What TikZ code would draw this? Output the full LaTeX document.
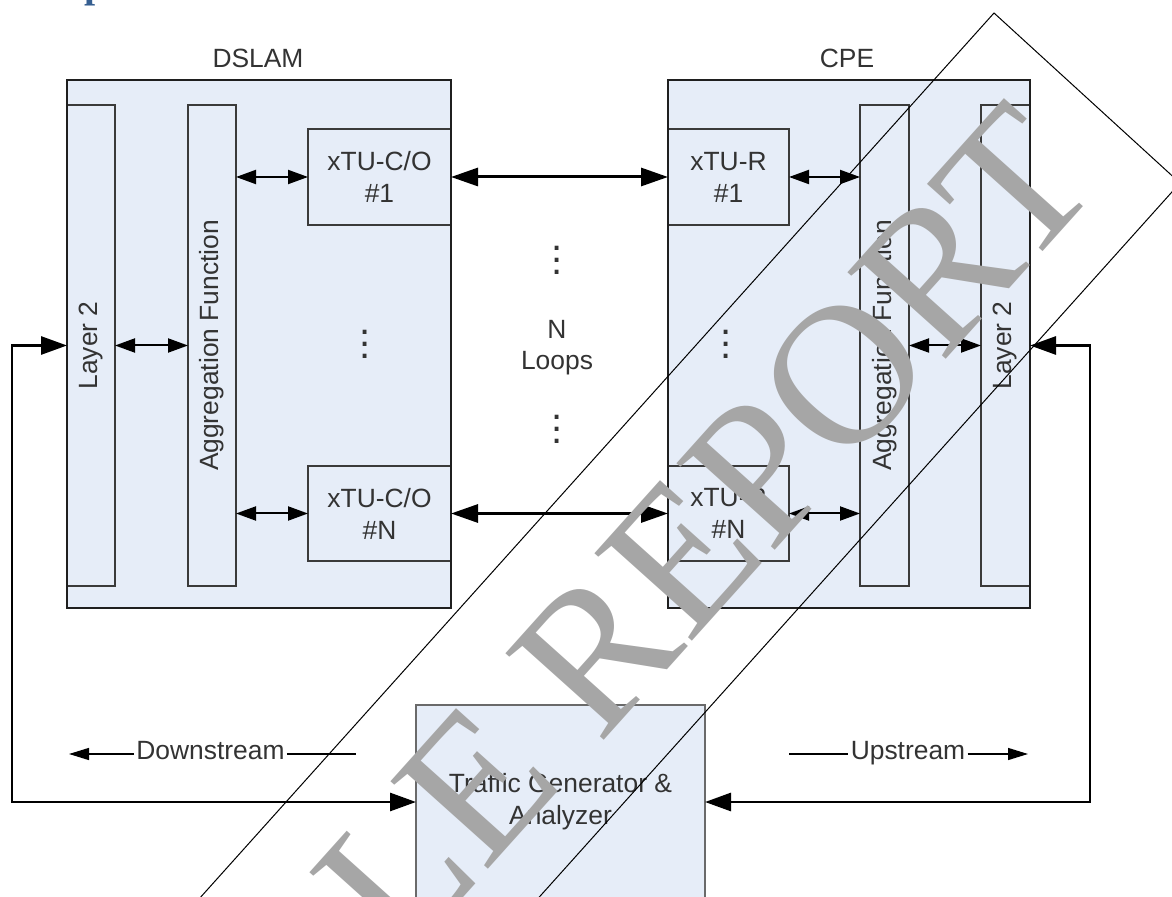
\documentclass[tikz,border=0pt]{standalone}
\usepackage{fontspec}
\setmainfont{Liberation Sans}
\newfontfamily\wmfont{Liberation Serif}
\usetikzlibrary{arrows.meta,calc}
\definecolor{boxfill}{HTML}{E6EDF8}
\definecolor{txt}{HTML}{333333}
\definecolor{edge}{HTML}{3A3A3A}
\definecolor{tgedge}{HTML}{6A6A6A}
\definecolor{wmgray}{HTML}{A6A6A6}
\definecolor{headblue}{HTML}{365F91}
\newcommand\mydotcol{\vbox{\baselineskip=6pt\lineskiplimit=0pt\hbox{.}\hbox{.}\hbox{.}}}
\begin{document}
\begin{tikzpicture}[x=0.5pt,y=-0.5pt,
  font=\fontsize{13.2}{16}\selectfont, text=txt,
  blk/.style={draw=edge,line width=1pt,fill=boxfill,inner sep=0pt,outer sep=0pt,align=center},
  outerbox/.style={fill=boxfill,draw=none,inner sep=0pt,outer sep=0pt},
  outerline/.style={draw=black!88,line width=1.3pt},
  smallarrow/.style={line width=1pt,{Triangle[length=10pt,width=7pt]}-{Triangle[length=10pt,width=7pt]}},
  looparrow/.style={line width=1.5pt,{Triangle[length=13.5pt,width=9pt]}-{Triangle[length=13.5pt,width=9pt]}},
  fbarrow/.style={line width=1.4pt,{Triangle[length=13pt,width=9pt]}-{Triangle[length=13pt,width=9pt]}},
  dirarrow/.style={line width=0.7pt,-{Triangle[length=10pt,width=6pt]}},
  dirline/.style={line width=0.7pt},
  lbl/.style={inner sep=1pt,text height=0.58em,text depth=0pt},
  vdotsnode/.style={font=\fontsize{20}{20}\selectfont,inner sep=0pt}]
\useasboundingbox (0,0) rectangle (1172,897);
\clip (0,0) rectangle (1172,897);

% heading fragment
\node[anchor=base west,font=\wmfont\bfseries\fontsize{20}{20}\selectfont,text=headblue,inner sep=0pt] (hd) at (84,-2) {p};

% outer boxes (fill)
\node[outerbox,minimum width=192pt,minimum height=264pt] (dslam) at (259,344) {};
\node[outerbox,minimum width=181pt,minimum height=264pt] (cpe) at (849,344) {};
\node (dtitle) at (258,58) {DSLAM};
\node (ctitle) at (847,58) {CPE};

% DSLAM inner
\node[blk,minimum width=24pt,minimum height=240.5pt] (dl2) at (91,345.5) {};
\node[rotate=90,inner sep=0pt] (dl2t) at (dl2) {Layer 2};
\node[blk,minimum width=24pt,minimum height=240.5pt] (dagg) at (212,345.5) {};
\node[rotate=90,inner sep=0pt] (daggt) at (dagg) {Aggregation Function};
\node[blk,minimum width=71.5pt,minimum height=48pt] (dx1) at (379.5,177) {xTU-C/O\\\#1};
\node[blk,minimum width=71.5pt,minimum height=47.5pt] (dxN) at (379.5,513.5) {xTU-C/O\\\#N};
\node[vdotsnode] (dd) at (365,344) {\mydotcol};

% CPE inner
\node[blk,minimum width=60.5pt,minimum height=48pt] (rx1) at (728.5,177) {xTU-R\\\#1};
\node[blk,minimum width=60.5pt,minimum height=47.5pt] (rxN) at (728.5,513.5) {xTU-R\\\#N};
\node[blk,minimum width=24.5pt,minimum height=240.5pt] (cagg) at (884.5,345.5) {};
\node[rotate=90,inner sep=0pt] (caggt) at (cagg) {Aggregation Function};
\node[blk,minimum width=24.5pt,minimum height=240.5pt] (cl2) at (1005.5,345.5) {};
\node[rotate=90,inner sep=0pt] (cl2t) at (cl2) {Layer 2};
\node[vdotsnode] (cd) at (726,344) {\mydotcol};

% outer borders on top
\draw[outerline] (dslam.south west) rectangle (dslam.north east);
\draw[outerline] (cpe.south west) rectangle (cpe.north east);

% loops
\node[align=center,font=\fontsize{13.2}{15.5}\selectfont] (loops) at (557,347.5) {N\\Loops};
\node[vdotsnode] (ld1) at (557,260) {\mydotcol};
\node[vdotsnode] (ld2) at (557,429) {\mydotcol};

% traffic generator
\node[blk,draw=tgedge,minimum width=144.5pt,minimum height=97pt] (tg) at (560.5,802) {Traffic Generator \&\\Analyzer};

% arrows
\draw[smallarrow] (dl2.east) -- (dagg.west);
\draw[smallarrow] (dagg.east |- dx1.west) -- (dx1.west);
\draw[smallarrow] (dagg.east |- dxN.west) -- (dxN.west);
\draw[looparrow] (dx1.east) -- (rx1.west);
\draw[looparrow] (dxN.east) -- (rxN.west);
\draw[smallarrow] (rx1.east) -- (cagg.west |- rx1.east);
\draw[smallarrow] (rxN.east) -- (cagg.west |- rxN.east);
\draw[smallarrow] (cagg.east) -- (cl2.west);
\coordinate (lb) at (12,345.5);
\coordinate (rb) at (1090,345.5);
\draw[fbarrow] (dl2.west) -- (lb) |- (tg.west);
\draw[fbarrow] (cl2.east) -- (rb) |- (tg.east);

% direction labels
\node[lbl] (ds) at (210.5,754) {Downstream};
\coordinate (dsl) at (69,754);
\coordinate (dsr) at (356,754);
\draw[dirarrow] (ds.west) -- (dsl);
\draw[dirline] (ds.east) -- (dsr);
\node[lbl] (us) at (908,754) {Upstream};
\coordinate (usl) at (789,754);
\coordinate (usr) at (1028,754);
\draw[dirline] (usl) -- (us.west);
\draw[dirarrow] (us.east) -- (usr);

% watermark
\node[font=\wmfont\fontsize{100}{100}\selectfont,text=wmgray,rotate=48.1,inner sep=0pt] (wm) at (523,733) {SAMPLE REPORT};
\coordinate (wa) at (994,13);
\coordinate (wb) at (1180,183);
\coordinate (wc) at (245,1225);
\coordinate (wd) at (59,1055);
\draw[line width=0.5pt] (wa) -- (wb) -- (wc) -- (wd) -- cycle;
\end{tikzpicture}
\end{document}
